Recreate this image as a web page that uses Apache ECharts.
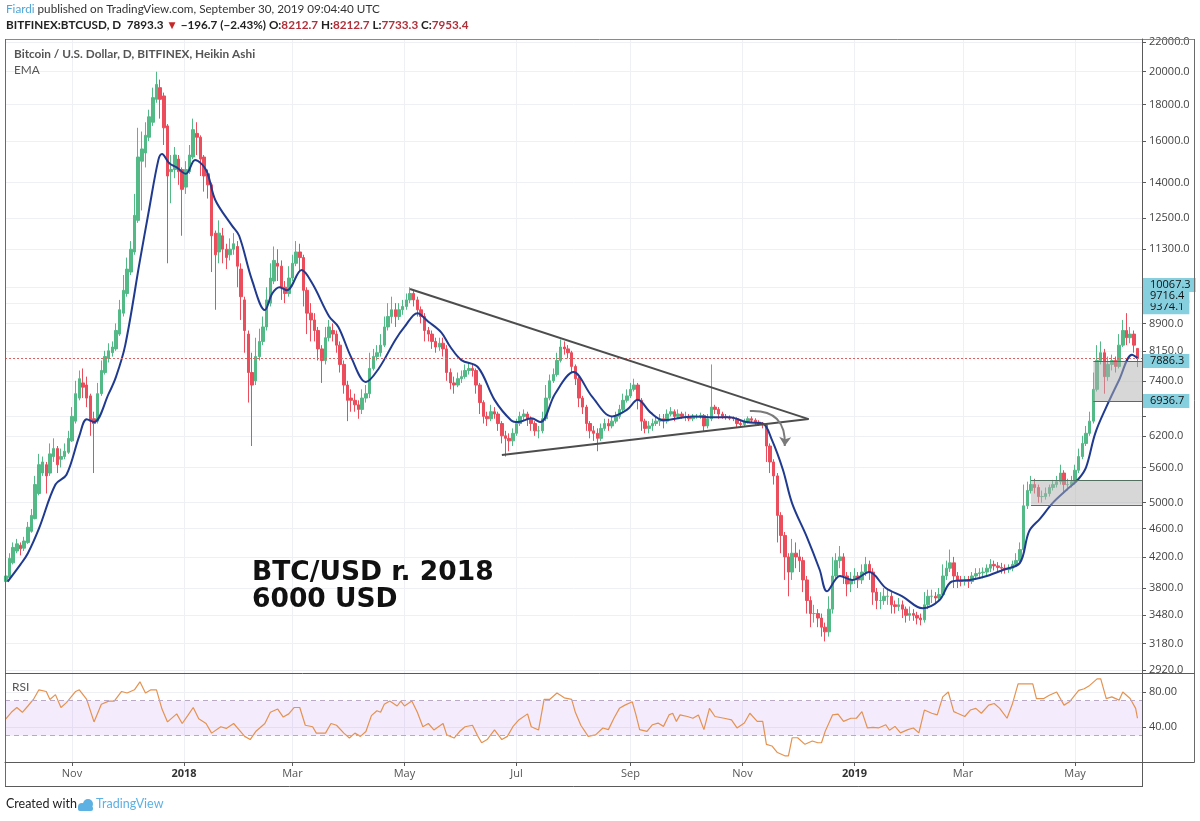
<!DOCTYPE html>
<html><head><meta charset="utf-8">
<script src="https://cdn.jsdelivr.net/npm/echarts@6/dist/echarts.min.js"></script>
<style>html,body{margin:0;padding:0;background:#fff}#c{width:1200px;height:821px}</style>
</head><body><div id="c"></div>
<script>
// Heikin Ashi candles, 2-day sampling: [date, open, close, low, high]
const candles = [
['2017-09-26',3880,3950,3820,4000],['2017-09-28',3930,4180,3900,4250],['2017-09-30',4120,4330,4100,4400],
['2017-10-02',4280,4380,4250,4450],['2017-10-04',4360,4310,4220,4400],['2017-10-06',4320,4420,4280,4480],
['2017-10-08',4400,4620,4380,4700],['2017-10-10',4560,4800,4540,4900],['2017-10-12',4750,5300,4740,5450],
['2017-10-14',5150,5650,5120,5850],['2017-10-16',5500,5700,5450,5800],['2017-10-18',5650,5450,5150,5700],
['2017-10-20',5500,5850,5450,6050],['2017-10-22',5800,5950,5700,6150],['2017-10-24',5950,5650,5500,6000],
['2017-10-26',5750,5800,5600,5950],['2017-10-28',5800,5900,5750,6050],['2017-10-30',5880,6150,5850,6300],
['2017-11-01',6100,6600,6080,6800],['2017-11-03',6500,7100,6450,7400],['2017-11-05',7000,7450,6950,7650],
['2017-11-07',7350,7250,7000,7700],['2017-11-09',7300,7000,6800,7500],['2017-11-11',7050,6500,6200,7100],
['2017-11-13',6550,6450,5500,6700],['2017-11-15',6500,7100,6450,7350],['2017-11-17',7100,7650,7050,7900],
['2017-11-19',7600,8000,7550,8150],['2017-11-21',7950,8150,7850,8350],['2017-11-23',8100,8250,8000,8400],
['2017-11-25',8200,8700,8150,8900],['2017-11-27',8600,9300,8550,9600],['2017-11-29',9200,9900,9100,10400],
['2017-12-01',9800,10600,9700,11000],['2017-12-03',10500,11300,10400,11600],['2017-12-05',11200,12600,11100,13500],
['2017-12-07',12400,15200,12300,16700],['2017-12-09',15000,15600,12800,16500],['2017-12-11',15400,16300,14700,17000],
['2017-12-13',16200,17300,16000,17700],['2017-12-15',17000,18400,16800,19000],['2017-12-17',18300,19200,18100,20000],
['2017-12-19',19000,18300,17200,19500],['2017-12-21',18500,16700,15800,18700],['2017-12-23',16800,14300,10800,16900],
['2017-12-25',14500,14600,13100,15300],['2017-12-27',14600,15300,14200,15700],['2017-12-29',15100,14500,13900,15300],
['2017-12-31',14600,13700,11800,14700],['2018-01-02',13800,14600,13500,15000],['2018-01-04',14500,15300,14400,15800],
['2018-01-06',15200,16600,15100,17200],['2018-01-08',16400,16200,15300,17000],['2018-01-10',16200,15100,14300,16300],
['2018-01-12',15200,14300,13600,15300],['2018-01-14',14400,13900,13300,14600],['2018-01-16',13900,11800,10500,14000],
['2018-01-18',11900,11100,9300,12000],['2018-01-20',11200,11900,10800,12400],['2018-01-22',11800,11300,10800,12100],
['2018-01-24',11300,11000,10600,11500],['2018-01-26',11100,11300,10900,11700],['2018-01-28',11300,11500,11100,11900],
['2018-01-30',11400,10700,10000,11600],['2018-02-01',10600,9700,9000,10800],['2018-02-03',9600,8700,8100,9700],
['2018-02-05',8600,7600,6900,8700],['2018-02-07',7600,7300,6000,8100],['2018-02-09',7400,8000,7300,8500],
['2018-02-11',8000,8400,7900,8750],['2018-02-13',8400,8800,8300,9100],['2018-02-15',8800,9600,8700,10000],
['2018-02-17',9500,10300,9400,10800],['2018-02-19',10200,10900,10100,11400],['2018-02-21',10800,10700,10200,11300],
['2018-02-23',10700,10000,9600,10900],['2018-02-25',10000,9800,9500,10200],['2018-02-27',9800,10300,9700,10700],
['2018-03-01',10300,10800,10200,11100],['2018-03-03',10800,11200,10700,11600],['2018-03-05',11200,11000,10500,11500],
['2018-03-07',11000,9900,9400,11100],['2018-03-09',9900,9200,8600,10000],['2018-03-11',9200,9000,8400,9500],
['2018-03-13',9000,8700,8400,9200],['2018-03-15',8700,8200,7900,8800],['2018-03-17',8200,7900,7350,8300],
['2018-03-19',7900,8500,7800,8800],['2018-03-21',8500,8800,8400,9000],['2018-03-23',8700,8600,8400,8900],
['2018-03-25',8600,8300,8100,8700],['2018-03-27',8300,7800,7600,8400],['2018-03-29',7800,7300,7100,7900],
['2018-03-31',7300,6950,6500,7400],['2018-04-02',7000,6950,6700,7200],['2018-04-04',6950,6850,6700,7100],
['2018-04-06',6850,6750,6550,6950],['2018-04-08',6750,7000,6650,7200],['2018-04-10',7000,7100,6900,7300],
['2018-04-12',7100,7700,7000,8100],['2018-04-14',7700,8000,7650,8200],['2018-04-16',8000,8100,7900,8300],
['2018-04-18',8100,8300,8000,8600],['2018-04-20',8300,8800,8250,9100],['2018-04-22',8800,9100,8700,9500],
['2018-04-24',9100,9300,8900,9700],['2018-04-26',9300,9100,8800,9500],['2018-04-28',9100,9300,9000,9500],
['2018-04-30',9300,9400,9150,9600],['2018-05-02',9400,9600,9300,9800],['2018-05-04',9600,9800,9500,10000],
['2018-05-06',9800,9600,9400,9900],['2018-05-08',9600,9300,9100,9700],['2018-05-10',9300,9100,8900,9400],
['2018-05-12',9100,8700,8400,9200],['2018-05-14',8700,8600,8400,8800],['2018-05-16',8600,8400,8200,8700],
['2018-05-18',8400,8250,8100,8500],['2018-05-20',8250,8350,8150,8500],['2018-05-22',8350,8200,8000,8500],
['2018-05-24',8200,7600,7400,8300],['2018-05-26',7600,7350,7200,7700],['2018-05-28',7350,7300,7100,7500],
['2018-05-30',7300,7450,7250,7600],['2018-06-01',7450,7500,7350,7650],['2018-06-03',7500,7650,7450,7800],
['2018-06-05',7650,7700,7550,7850],['2018-06-07',7700,7650,7500,7800],['2018-06-09',7650,7300,7100,7700],
['2018-06-11',7300,6900,6650,7350],['2018-06-13',6900,6600,6450,6950],['2018-06-15',6600,6550,6400,6700],
['2018-06-17',6550,6700,6500,6850],['2018-06-19',6700,6650,6550,6800],['2018-06-21',6650,6450,6300,6700],
['2018-06-23',6450,6200,6050,6500],['2018-06-25',6200,6150,5800,6300],['2018-06-27',6150,6100,5900,6250],
['2018-06-29',6100,6250,6000,6350],['2018-07-01',6250,6450,6200,6550],['2018-07-03',6450,6600,6400,6700],
['2018-07-05',6600,6650,6500,6750],['2018-07-07',6650,6550,6400,6700],['2018-07-09',6550,6450,6300,6600],
['2018-07-11',6450,6300,6200,6500],['2018-07-13',6300,6300,6150,6400],['2018-07-15',6300,6550,6250,6700],
['2018-07-17',6550,7000,6500,7300],['2018-07-19',7000,7400,6950,7550],['2018-07-21',7400,7550,7350,7700],
['2018-07-23',7550,7900,7500,8100],['2018-07-25',7900,8250,7850,8450],['2018-07-27',8250,8200,8050,8400],
['2018-07-29',8200,8100,7950,8300],['2018-07-31',8100,7750,7600,8150],['2018-08-02',7750,7450,7300,7800],
['2018-08-04',7450,7000,6800,7500],['2018-08-06',7000,6800,6650,7050],['2018-08-08',6800,6450,6300,6850],
['2018-08-10',6450,6300,6150,6500],['2018-08-12',6300,6250,6100,6400],['2018-08-14',6250,6150,5900,6350],
['2018-08-16',6150,6350,6100,6450],['2018-08-18',6350,6450,6300,6550],['2018-08-20',6450,6400,6300,6550],
['2018-08-22',6400,6500,6350,6600],['2018-08-24',6500,6600,6450,6700],['2018-08-26',6600,6750,6550,6850],
['2018-08-28',6750,6950,6700,7100],['2018-08-30',6950,7050,6900,7200],['2018-09-01',7050,7200,7000,7350],
['2018-09-03',7200,7300,7150,7450],['2018-09-05',7300,6950,6750,7350],['2018-09-07',6950,6500,6300,7000],
['2018-09-09',6500,6350,6250,6550],['2018-09-11',6350,6400,6250,6500],['2018-09-13',6400,6450,6300,6550],
['2018-09-15',6450,6500,6400,6600],['2018-09-17',6500,6550,6400,6650],['2018-09-19',6550,6500,6350,6650],
['2018-09-21',6500,6650,6450,6750],['2018-09-23',6650,6700,6600,6800],['2018-09-25',6700,6600,6500,6750],
['2018-09-27',6600,6650,6550,6750],['2018-09-29',6650,6600,6550,6700],['2018-10-01',6600,6600,6500,6700],
['2018-10-03',6600,6550,6500,6650],['2018-10-05',6550,6600,6500,6650],['2018-10-07',6600,6600,6550,6650],
['2018-10-09',6600,6620,6550,6680],['2018-10-11',6620,6400,6300,6650],['2018-10-13',6400,6550,6350,6650],
['2018-10-15',6550,6800,6500,7800],['2018-10-17',6800,6750,6650,6850],['2018-10-19',6750,6650,6550,6800],
['2018-10-21',6650,6600,6550,6700],['2018-10-23',6600,6580,6530,6650],['2018-10-25',6580,6560,6520,6620],
['2018-10-27',6560,6550,6500,6600],['2018-10-29',6550,6450,6380,6580],['2018-10-31',6450,6430,6380,6500],
['2018-11-02',6430,6500,6400,6550],['2018-11-04',6500,6550,6450,6600],['2018-11-06',6550,6520,6480,6600],
['2018-11-08',6520,6480,6420,6560],['2018-11-10',6480,6450,6400,6520],['2018-11-12',6450,6420,6350,6480],
['2018-11-14',6420,6000,5700,6450],['2018-11-16',6000,5700,5500,6050],['2018-11-18',5700,5450,5300,5750],
['2018-11-20',5450,4800,4400,5500],['2018-11-22',4800,4500,4250,4850],['2018-11-24',4500,4200,3900,4550],
['2018-11-26',4200,4000,3700,4250],['2018-11-28',4000,4250,3900,4450],['2018-11-30',4250,4200,4050,4400],
['2018-12-02',4200,4150,4000,4300],['2018-12-04',4150,3900,3750,4200],['2018-12-06',3900,3650,3500,3950],
['2018-12-08',3650,3500,3350,3700],['2018-12-10',3500,3500,3400,3600],['2018-12-12',3500,3450,3350,3550],
['2018-12-14',3450,3350,3250,3500],['2018-12-16',3350,3300,3200,3400],['2018-12-18',3300,3550,3250,3700],
['2018-12-20',3550,3950,3500,4200],['2018-12-22',3950,4150,3900,4250],['2018-12-24',4150,4200,4050,4350],
['2018-12-26',4200,3950,3850,4250],['2018-12-28',3950,3850,3700,4000],['2018-12-30',3850,3900,3750,4000],
['2019-01-01',3900,3950,3850,4050],['2019-01-03',3950,3900,3800,4000],['2019-01-05',3900,4000,3850,4100],
['2019-01-07',4000,4100,3950,4200],['2019-01-09',4100,4000,3900,4150],['2019-01-11',4000,3750,3600,4050],
['2019-01-13',3750,3650,3550,3800],['2019-01-15',3650,3650,3550,3750],['2019-01-17',3650,3700,3600,3800],
['2019-01-19',3700,3700,3600,3800],['2019-01-21',3700,3600,3500,3750],['2019-01-23',3600,3580,3500,3650],
['2019-01-25',3580,3600,3530,3680],['2019-01-27',3600,3550,3450,3650],['2019-01-29',3550,3480,3400,3580],
['2019-01-31',3480,3500,3420,3580],['2019-02-02',3500,3480,3420,3550],['2019-02-04',3480,3450,3380,3520],
['2019-02-06',3450,3430,3370,3500],['2019-02-08',3430,3600,3400,3750],['2019-02-10',3600,3700,3550,3780],
['2019-02-12',3700,3700,3620,3780],['2019-02-14',3700,3680,3620,3750],['2019-02-16',3680,3720,3640,3800],
['2019-02-18',3720,3950,3700,4100],['2019-02-20',3950,4050,3900,4150],['2019-02-22',4050,4120,4000,4300],
['2019-02-24',4120,3950,3800,4200],['2019-02-26',3950,3900,3800,4000],['2019-02-28',3900,3880,3820,3950],
['2019-03-02',3880,3900,3830,3950],['2019-03-04',3900,3880,3800,3950],['2019-03-06',3880,3950,3850,4000],
['2019-03-08',3950,3980,3900,4050],['2019-03-10',3980,3990,3920,4050],['2019-03-12',3990,4000,3920,4060],
['2019-03-14',4000,4050,3950,4100],['2019-03-16',4050,4100,4000,4170],['2019-03-18',4100,4080,4020,4150],
['2019-03-20',4080,4060,4000,4130],['2019-03-22',4060,4050,3980,4120],['2019-03-24',4050,4030,3980,4100],
['2019-03-26',4030,4050,3990,4100],['2019-03-28',4050,4100,4010,4150],['2019-03-30',4100,4150,4080,4250],
['2019-04-01',4150,4300,4120,4400],['2019-04-03',4300,4950,4280,5300],['2019-04-05',4950,5200,4900,5350],
['2019-04-07',5200,5300,5150,5450],['2019-04-09',5300,5250,5150,5400],['2019-04-11',5250,5100,5000,5300],
['2019-04-13',5100,5100,5000,5200],['2019-04-15',5100,5150,5050,5250],['2019-04-17',5150,5250,5100,5300],
['2019-04-19',5250,5300,5200,5380],['2019-04-21',5300,5350,5250,5450],['2019-04-23',5350,5500,5300,5650],
['2019-04-25',5500,5300,5150,5550],['2019-04-27',5300,5300,5200,5400],['2019-04-29',5300,5350,5250,5450],
['2019-05-01',5350,5550,5300,5650],['2019-05-03',5550,5800,5500,5950],['2019-05-05',5800,6050,5750,6200],
['2019-05-07',6050,6250,6000,6400],['2019-05-09',6250,6500,6200,6700],['2019-05-11',6500,7200,6450,7600],
['2019-05-13',7200,7900,7150,8300],['2019-05-15',7900,8100,7800,8400],['2019-05-17',8100,7500,7100,8200],
['2019-05-19',7500,7800,7400,8000],['2019-05-21',7800,7900,7650,8050],['2019-05-23',7900,7750,7600,8000],
['2019-05-25',7750,8300,7700,8600],['2019-05-27',8300,8700,8250,9000],['2019-05-29',8700,8500,8300,9200],
['2019-05-31',8500,8600,8350,8800],['2019-06-02',8600,8300,8100,8700],['2019-06-04',8212.7,7953.4,7733.3,8212.7]
];
const emaData = [
['2017-09-27',3880],['2017-10-04',4100],['2017-10-08',4250],['2017-10-14',4600],['2017-10-23',5300],['2017-10-29',5470],
['2017-11-05',6200],['2017-11-09',6540],['2017-11-13',6480],['2017-11-21',7100],['2017-11-25',7500],['2017-11-30',8300],
['2017-12-08',10900],['2017-12-13',12850],['2017-12-18',15050],['2017-12-20',15350],['2017-12-24',14900],['2017-12-28',14700],
['2018-01-02',14400],['2018-01-07',15050],['2018-01-13',14580],['2018-01-18',13240],['2018-01-27',12200],['2018-01-31',11800],
['2018-02-07',10230],['2018-02-14',9290],['2018-02-18',9800],['2018-02-22',10000],['2018-02-26',9900],['2018-03-06',10570],
['2018-03-12',10100],['2018-03-21',9100],['2018-03-26',8800],['2018-04-02',7980],['2018-04-10',7370],['2018-04-17',7700],
['2018-04-26',8440],['2018-05-01',8800],['2018-05-08',9200],['2018-05-14',8950],['2018-05-21',8650],['2018-05-26',8250],
['2018-06-01',7910],['2018-06-10',7730],['2018-06-19',6960],['2018-06-28',6520],['2018-07-02',6480],['2018-07-09',6560],
['2018-07-14',6480],['2018-07-22',7100],['2018-08-01',7610],['2018-08-11',7040],['2018-08-22',6600],['2018-08-30',6740],
['2018-09-05',6960],['2018-09-12',6680],['2018-09-19',6520],['2018-10-05',6600],['2018-10-14',6580],['2018-10-25',6580],
['2018-11-03',6480],['2018-11-12',6450],['2018-11-17',6120],['2018-11-23',5560],['2018-11-28',4990],['2018-12-06',4480],
['2018-12-13',4030],['2018-12-17',3760],['2018-12-24',3950],['2018-12-31',3900],['2019-01-09',4000],['2019-01-18',3800],
['2019-01-27',3700],['2019-02-07',3560],['2019-02-16',3650],['2019-02-23',3880],['2019-03-05',3900],['2019-03-14',3950],
['2019-03-23',4030],['2019-04-01',4120],['2019-04-06',4560],['2019-04-12',4750],['2019-04-19',5000],['2019-04-26',5200],
['2019-05-03',5400],['2019-05-07',5600],['2019-05-12',6250],['2019-05-18',6800],['2019-05-25',7420],['2019-06-01',8050],
['2019-06-04',7960]
];
const rsiData = [
['2017-09-26',49.4],['2017-09-29',56.8],['2017-10-02',62.3],['2017-10-05',56.8],['2017-10-08',64],['2017-10-11',71.5],
['2017-10-14',82.5],['2017-10-18',80.6],['2017-10-20',71.5],['2017-10-23',77],['2017-10-26',62.3],['2017-10-29',67.8],
['2017-11-03',80.6],['2017-11-05',82.5],['2017-11-09',71.5],['2017-11-13',45.8],['2017-11-17',66],['2017-11-21',69.6],
['2017-11-24',69.6],['2017-11-28',80.6],['2017-12-01',78.8],['2017-12-05',82.5],['2017-12-08',91.6],['2017-12-11',78.8],
['2017-12-14',82.5],['2017-12-17',82.5],['2017-12-20',60.5],['2017-12-23',45.8],['2017-12-28',55],['2017-12-31',44],
['2018-01-03',53],['2018-01-06',62.3],['2018-01-09',49.4],['2018-01-13',44],['2018-01-16',33],['2018-01-21',40.3],
['2018-01-24',38.4],['2018-01-28',44],['2018-01-31',36.6],['2018-02-03',29.3],['2018-02-06',25.6],['2018-02-09',34.8],
['2018-02-14',44],['2018-02-17',56.8],['2018-02-21',60.5],['2018-02-24',51.3],['2018-02-27',55],['2018-03-02',62.3],
['2018-03-05',62.3],['2018-03-08',42],['2018-03-12',40.3],['2018-03-14',33],['2018-03-19',33],['2018-03-22',44],
['2018-03-25',42],['2018-03-29',33],['2018-04-01',27.4],['2018-04-04',33],['2018-04-07',29.3],['2018-04-10',34.8],
['2018-04-13',53],['2018-04-16',58.6],['2018-04-18',56.8],['2018-04-20',66],['2018-04-23',69.6],['2018-04-27',64],
['2018-04-29',69.6],['2018-05-01',64],['2018-05-05',69.6],['2018-05-08',56.8],['2018-05-11',40.3],['2018-05-14',44],
['2018-05-17',36.6],['2018-05-22',44],['2018-05-24',31],['2018-05-28',27.4],['2018-05-31',34.8],['2018-06-03',40.3],
['2018-06-07',42],['2018-06-10',29.3],['2018-06-12',22],['2018-06-15',25.6],['2018-06-19',36.6],['2018-06-23',25.6],
['2018-06-26',29.3],['2018-06-29',40.3],['2018-07-02',47.6],['2018-07-07',55],['2018-07-09',40.3],['2018-07-13',36.6],
['2018-07-16',71.5],['2018-07-19',71.5],['2018-07-23',78.8],['2018-07-27',73.3],['2018-07-31',71.5],['2018-08-02',56.8],
['2018-08-05',42],['2018-08-09',29.3],['2018-08-13',31],['2018-08-17',38.9],['2018-08-20',37],['2018-08-23',50],
['2018-08-26',61.3],['2018-08-29',65],['2018-09-02',68.8],['2018-09-04',53.8],['2018-09-06',37],['2018-09-10',35],
['2018-09-13',42.6],['2018-09-16',44.5],['2018-09-19',40.7],['2018-09-22',53.8],['2018-09-24',55.7],['2018-09-26',46.4],
['2018-09-28',53.8],['2018-10-02',52],['2018-10-05',50],['2018-10-08',53.8],['2018-10-11',37],['2018-10-14',61.3],
['2018-10-17',52],['2018-10-22',50],['2018-10-26',48.2],['2018-10-29',38.9],['2018-11-02',44.5],['2018-11-05',55.7],
['2018-11-09',46.4],['2018-11-12',46.4],['2018-11-14',20.2],['2018-11-17',18.3],['2018-11-20',10.8],['2018-11-24',7.1],
['2018-11-26',7.1],['2018-11-28',27.7],['2018-12-01',27.7],['2018-12-05',20.2],['2018-12-09',24],['2018-12-12',22],
['2018-12-14',22],['2018-12-16',35],['2018-12-20',53.8],['2018-12-23',54.6],['2018-12-26',46.4],['2018-12-30',50],
['2019-01-02',50],['2019-01-05',57.6],['2019-01-08',38.9],['2019-01-11',39.6],['2019-01-14',38.9],['2019-01-18',42.6],
['2019-01-20',36.3],['2019-01-23',40.7],['2019-01-26',33.3],['2019-01-30',37],['2019-02-02',38.9],['2019-02-05',33.3],
['2019-02-08',59.4],['2019-02-12',55.7],['2019-02-15',53.8],['2019-02-18',74.4],['2019-02-21',80],['2019-02-24',57.6],
['2019-02-26',55.7],['2019-03-02',52],['2019-03-05',59.4],['2019-03-08',61.3],['2019-03-11',55.7],['2019-03-15',65],
['2019-03-18',66.9],['2019-03-21',61.3],['2019-03-25',50],['2019-03-28',66.9],['2019-03-31',89.3],['2019-04-03',89.3],
['2019-04-08',89.3],['2019-04-10',72.5],['2019-04-14',72.5],['2019-04-17',76.3],['2019-04-21',80],['2019-04-25',65],
['2019-04-28',68.8],['2019-05-03',81.9],['2019-05-06',83.7],['2019-05-09',87.5],['2019-05-13',95],['2019-05-15',95],
['2019-05-18',72.5],['2019-05-21',74.4],['2019-05-25',70.7],['2019-05-27',80],['2019-05-31',72.5],['2019-06-03',61.3],
['2019-06-04',50]
];
const priceLabels = [22000,20000,18000,16000,14000,12500,11300,8900,8150,7400,6200,5600,5000,4600,4200,3800,3480,3180,2920];
const priceGridTicks = [22000,20000,18000,16000,14000,12500,11300,10000,9500,8900,8150,7400,6600,6200,5600,5000,4600,4200,3800,3480,3180,2920];
const markerPricesA = [10067.3, 9374.1, 7886.3, 6936.7];
const markerPricesB = [9716.4];
const monthTicks = ['2017-11-01','2018-01-01','2018-03-01','2018-05-01','2018-07-01','2018-09-01','2018-11-01','2019-01-01','2019-03-01','2019-05-01'];
const rsiTicks = [40, 80];
const rsiBand = [70, 30];
const lastClose = 7953.4;
const triangleUpper = [['2018-05-04', 9941], ['2018-12-07', 6543]];
const triangleLower = [['2018-06-23', 5831], ['2018-12-07', 6543]];
const breakArrow = [['2018-11-05', 6714], ['2018-11-24', 6000]];
const zoneLower = { from: '2019-04-07', top: 5380, bottom: 4965 };
const zoneUpper = { from: '2019-05-11', top: 7886.3, bottom: 6936.7 };
const X_MIN = '2017-09-25T13:00:00Z', X_MAX = '2019-06-06T11:00:00Z';
const P_MIN = 2891, P_MAX = 22220;
const MONTHS = ['Jan','Feb','Mar','Apr','May','Jun','Jul','Aug','Sep','Oct','Nov','Dec'];

// dates -> UTC timestamps for the value-type time axis
const T = s => Date.parse(s.length === 10 ? s + 'T00:00:00Z' : s);
const P = pt => [T(pt[0]), pt[1]];

const UP = '#53b987', DOWN = '#eb4d5c', GRID = '#eef0f3', AX = '#5a5a5a';
const chart = echarts.init(document.getElementById('c'), null, { renderer: 'canvas' });

const monthTickTs = monthTicks.map(T);
const zoneLineStyle = { color: '#51705f', width: 1, type: 'solid' };
function zoneLine(z, v) { return [{ coord: [T(z.from), v], lineStyle: zoneLineStyle }, { coord: [T(X_MAX), v] }]; }
const monthFmt = function (v) { const d = new Date(v); return d.getUTCMonth() === 0 ? '{y|' + d.getUTCFullYear() + '}' : MONTHS[d.getUTCMonth()]; };
function markerAxis(vals) {
  return { type: 'log', logBase: 10, gridIndex: 0, position: 'right', min: P_MIN, max: P_MAX,
    axisLine: { show: false }, axisTick: { show: false }, splitLine: { show: false },
    axisLabel: { customValues: vals, formatter: v => Number(v).toFixed(1), color: '#111', fontSize: 11,
      hideOverlap: false, showMinLabel: true, showMaxLabel: true,
      margin: 1, backgroundColor: '#86cfdf', padding: [2, 5, 1, 7] } };
}

const option = {
  animation: false,
  backgroundColor: '#ffffff',
  textStyle: { fontFamily: '"Open Sans", "Noto Sans", sans-serif' },
  grid: [
    { left: 5, right: 58, top: 39, height: 634, outerBoundsMode: 'none', containLabel: false },
    { left: 5, right: 58, top: 673, height: 89, outerBoundsMode: 'none', containLabel: false }
  ],
  xAxis: [
    { type: 'value', gridIndex: 0, min: T(X_MIN), max: T(X_MAX), scale: true,
      axisLine: { show: false }, axisTick: { show: false, customValues: monthTickTs },
      axisLabel: { show: false, customValues: monthTickTs },
      splitLine: { show: true, lineStyle: { color: GRID, width: 1 } } },
    { type: 'value', gridIndex: 1, min: T(X_MIN), max: T(X_MAX), scale: true,
      axisLine: { show: true, lineStyle: { color: AX } },
      axisTick: { show: true, length: 4, customValues: monthTickTs, lineStyle: { color: AX } },
      axisLabel: { customValues: monthTickTs, color: '#555', fontSize: 11, margin: 6, formatter: monthFmt,
        rich: { y: { fontWeight: 'bold', color: '#333', fontSize: 11 } } },
      splitLine: { show: true, lineStyle: { color: GRID, width: 1 } } }
  ],
  yAxis: [
    { type: 'log', logBase: 10, gridIndex: 0, position: 'right', min: P_MIN, max: P_MAX,
      axisLine: { show: true, lineStyle: { color: AX } },
      axisTick: { show: true, length: 4, customValues: priceGridTicks, lineStyle: { color: AX } },
      axisLabel: { customValues: priceLabels, formatter: v => Number(v).toFixed(1), color: '#444', fontSize: 11, margin: 7 },
      splitLine: { show: true, lineStyle: { color: GRID, width: 1 } } },
    markerAxis(markerPricesA),
    markerAxis(markerPricesB),
    { type: 'value', gridIndex: 1, position: 'right', min: 0, max: 101.7,
      axisLine: { show: true, lineStyle: { color: AX } },
      axisTick: { show: true, length: 4, customValues: rsiTicks, lineStyle: { color: AX } },
      axisLabel: { customValues: rsiTicks, formatter: v => Number(v).toFixed(2), color: '#444', fontSize: 11, margin: 7 },
      splitLine: { show: true, lineStyle: { color: GRID, width: 1 } } }
  ],
  series: [
    { type: 'candlestick', name: 'BTCUSD', xAxisIndex: 0, yAxisIndex: 0,
      data: candles.map(r => [T(r[0]), r[1], r[2], r[3], r[4]]), barWidth: 3,
      itemStyle: { color: UP, color0: DOWN, borderColor: UP, borderColor0: DOWN, borderWidth: 1 },
      z: 2,
      markLine: { silent: true, symbol: ['none', 'none'], label: { show: false }, z: 6,
        lineStyle: { color: '#e06060', width: 1, type: [2, 2] },
        data: [{ yAxis: lastClose }] } },
    { type: 'line', name: 'EMA', xAxisIndex: 0, yAxisIndex: 0, data: emaData.map(P), smooth: 0.35,
      showSymbol: false, symbol: 'none', lineStyle: { color: '#1f3a8f', width: 2 }, z: 3,
      markLine: { silent: true, symbol: ['none', 'none'], label: { show: false }, z: 6,
        lineStyle: { color: '#4d4d4d', width: 2, type: 'solid' },
        data: [
          [{ coord: P(triangleUpper[0]) }, { coord: P(triangleUpper[1]) }],
          [{ coord: P(triangleLower[0]) }, { coord: P(triangleLower[1]) }],
          zoneLine(zoneLower, zoneLower.top), zoneLine(zoneLower, zoneLower.bottom),
          zoneLine(zoneUpper, zoneUpper.top), zoneLine(zoneUpper, zoneUpper.bottom)
        ] },
      markArea: { silent: true, z: 5, itemStyle: { color: 'rgba(175,175,175,0.5)' },
        data: [
          [{ coord: [T(zoneLower.from), zoneLower.top] }, { coord: [T(X_MAX), zoneLower.bottom] }],
          [{ coord: [T(zoneUpper.from), zoneUpper.top] }, { coord: [T(X_MAX), zoneUpper.bottom] }]
        ] } },
    { type: 'lines', name: 'arrow', coordinateSystem: 'cartesian2d', xAxisIndex: 0, yAxisIndex: 0, z: 7, silent: true,
      symbol: ['none', 'arrow'], symbolSize: 9,
      lineStyle: { color: '#7a7a7a', width: 2, curveness: 0.55, opacity: 1 },
      data: [{ coords: [P(breakArrow[0]), P(breakArrow[1])] }] },
    { type: 'line', name: 'RSI', xAxisIndex: 1, yAxisIndex: 3, data: rsiData.map(P), showSymbol: false, symbol: 'none',
      lineStyle: { color: '#e5924f', width: 1.2 }, z: 4,
      markArea: { silent: true, z: 1, itemStyle: { color: 'rgba(180,120,240,0.15)' },
        data: [[{ yAxis: rsiBand[0] }, { yAxis: rsiBand[1] }]] },
      markLine: { silent: true, symbol: ['none', 'none'], label: { show: false },
        lineStyle: { color: '#b9a9c6', width: 1, type: [5, 4] },
        data: [{ yAxis: rsiBand[0] }, { yAxis: rsiBand[1] }] } }
  ],
  graphic: [
    { type: 'text', left: 6, top: 3, z: 10, style: { text: '{a|Fiardi} published on TradingView.com, September 30, 2019 09:04:40 UTC',
      font: '11.7px Lato', fill: '#333', rich: { a: { fill: '#4da6d9', font: '11.7px Lato' } } } },
    { type: 'text', left: 6, top: 19, z: 10, style: { text: '{k|BITFINEX:BTCUSD, D}  7893.3 {r|▼} −196.7 (−2.43%) O:{v|8212.7} H:{v|8212.7} L:{v|7733.3} C:{v|7953.4}',
      font: 'bold 11.7px Lato', fill: '#222', rich: { k: { font: 'bold 11.7px Lato', fill: '#222' }, r: { fill: '#c62828', font: 'bold 11.7px Lato' }, v: { fill: '#b0303a', font: 'bold 11.7px Lato' } } } },
    { type: 'text', left: 14, top: 48, z: 10, style: { text: 'Bitcoin / U.S. Dollar, D, BITFINEX, Heikin Ashi', font: 'bold 11.8px Lato', fill: '#555' } },
    { type: 'text', left: 14, top: 64, z: 10, style: { text: 'EMA', font: '11.8px Lato', fill: '#555' } },
    { type: 'text', left: 12, top: 681, z: 10, style: { text: 'RSI', font: '12px Lato', fill: '#555' } },
    { type: 'text', left: 252, top: 560, z: 10, style: { text: 'BTC/USD r. 2018\n6000 USD', font: 'bold 26.5px "DejaVu Sans"', fill: '#111', lineHeight: 27 } },
    { type: 'text', left: 6, top: 797, z: 10, style: { text: 'Created with', font: '12.5px Lato', fill: '#222' } },
    { type: 'circle', z: 10, shape: { cx: 82, cy: 807, r: 4 }, style: { fill: '#5db1e3' } },
    { type: 'circle', z: 10, shape: { cx: 88, cy: 804, r: 5 }, style: { fill: '#5db1e3' } },
    { type: 'rect', z: 10, shape: { x: 78, y: 806, width: 15, height: 5, r: 2 }, style: { fill: '#5db1e3' } },
    { type: 'text', left: 96, top: 797, z: 10, style: { text: 'TradingView', font: '12.5px Lato', fill: '#5db1e3' } },
    { type: 'line', z: 9, shape: { x1: 5, y1: 39.5, x2: 1194.5, y2: 39.5 }, style: { stroke: '#8a8a8a', lineWidth: 1 } },
    { type: 'line', z: 9, shape: { x1: 5.5, y1: 39, x2: 5.5, y2: 787 }, style: { stroke: '#6a6a6a', lineWidth: 1 } },
    { type: 'line', z: 9, shape: { x1: 1194.5, y1: 39, x2: 1194.5, y2: 762.5 }, style: { stroke: '#6a6a6a', lineWidth: 1 } },
    { type: 'line', z: 9, shape: { x1: 1142.5, y1: 39, x2: 1142.5, y2: 787 }, style: { stroke: '#5a5a5a', lineWidth: 1 } },
    { type: 'line', z: 9, shape: { x1: 5, y1: 673.5, x2: 1194.5, y2: 673.5 }, style: { stroke: '#5a5a5a', lineWidth: 1 } },
    { type: 'line', z: 9, shape: { x1: 5, y1: 762.5, x2: 1194.5, y2: 762.5 }, style: { stroke: '#5a5a5a', lineWidth: 1 } },
    { type: 'line', z: 9, shape: { x1: 5, y1: 786.5, x2: 1142.5, y2: 786.5 }, style: { stroke: '#5a5a5a', lineWidth: 1 } }
  ]
};
chart.setOption(option);
</script>
</body></html>
